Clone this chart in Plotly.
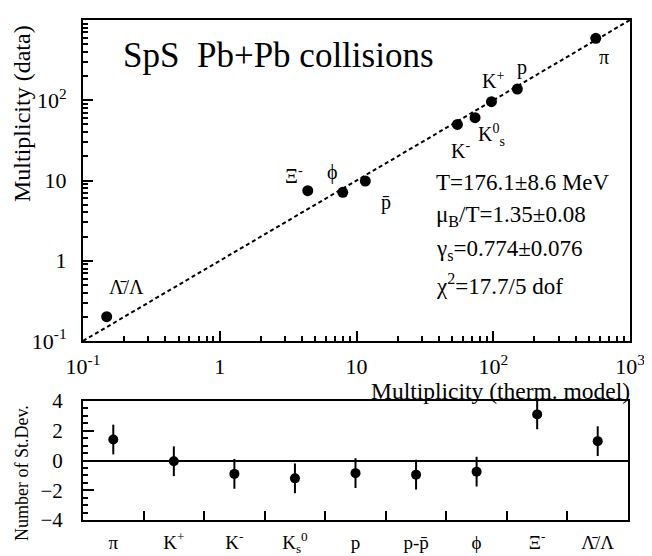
import math
import plotly.graph_objects as go

# ---- data ----
particles = ["π", "K<sup>+</sup>", "K<sup>-</sup>", "K<sup>0</sup><sub>s</sub>", "p", "p̄", "ϕ", "Ξ<sup>-</sup>", "Λ̄/Λ"]
model_mult = [562, 97, 54.7, 73.6, 150, 11.6, 7.94, 4.4, 0.149]
data_mult = [591, 96, 50, 60.6, 138, 9.86, 7.13, 7.46, 0.201]
data_err = [25, 6, 4, 6, 8, 0.8, 0.6, 0.7, 0.025]

dev_labels = ["π", "K<sup>+</sup>", "K<sup>-</sup>", "K<sub>s</sub><sup>0</sup>", "p", "p-p̄", "ϕ", "Ξ<sup>-</sup>", "Λ̄/Λ"]
dev_values = [1.41, -0.05, -0.9, -1.2, -0.85, -0.95, -0.75, 3.1, 1.3]
dev_err = [1.0, 1.0, 1.0, 1.0, 1.0, 1.0, 1.0, 1.0, 1.0]

diag = [0.1, 1000]
log_ticks = [0.1, 1, 10, 100, 1000]
log_ticktext = ["10<sup>-1</sup>", "1", "10", "10<sup>2</sup>", "10<sup>3</sup>"]
minor_ticks = [k * 10.0 ** n for n in range(-1, 3) for k in range(2, 10)]

fit_lines = ["T=176.1±8.6 MeV", "μ<sub>B</sub>/T=1.35±0.08", "γ<sub>s</sub>=0.774±0.076", "χ<sup>2</sup>=17.7/5 dof"]

# label offsets (px) for point labels in top panel
label_shift = [(8, -19), (2, 22), (3, -26), (16, -17), (5, 22), (21, -22), (-10, 20), (-14, 16), (20, 30)]

FONT = "Liberation Serif, Times New Roman, serif"
OFF = 8                      # page body margin
SW, SH = 652, 556            # screen size
W, H = SW - OFF, SH - OFF    # figure size


def px(sx):
    return (sx - OFF) / W


def py(sy):
    return 1 - (sy - OFF) / H


L, R = 83, 630
T1, B1 = 20, 341
T2, B2 = 401, 520

fig = go.Figure()

fig.add_trace(go.Scatter(x=diag, y=diag, mode="lines",
                         line=dict(color="black", width=2, dash="4px,3px"),
                         xaxis="x", yaxis="y", showlegend=False, hoverinfo="skip"))
fig.add_trace(go.Scatter(x=model_mult, y=data_mult, mode="markers",
                         marker=dict(color="black", size=11),
                         error_y=dict(type="data", array=data_err, color="black", thickness=1.5, width=0),
                         xaxis="x", yaxis="y", showlegend=False))
# invisible trace to carry the minor-tick overlay axes
fig.add_trace(go.Scatter(x=diag, y=diag, mode="lines", line=dict(width=0), opacity=0,
                         xaxis="x3", yaxis="y3", showlegend=False, hoverinfo="skip"))

fig.add_trace(go.Scatter(x=dev_labels, y=dev_values, mode="markers",
                         marker=dict(color="black", size=10),
                         error_y=dict(type="data", array=dev_err, color="black", thickness=2, width=0),
                         xaxis="x2", yaxis="y2", showlegend=False))

annotations = []
for name, xv, yv, (dx, dy) in zip(particles, model_mult, data_mult, label_shift):
    annotations.append(dict(x=math.log10(xv), y=math.log10(yv), xref="x", yref="y", text=name, showarrow=False,
                            xshift=dx, yshift=dy, font=dict(family=FONT, size=20, color="black")))

annotations.append(dict(x=px(121), y=py(55), xref="paper", yref="paper", xanchor="left", yanchor="middle",
                        text="SpS  Pb+Pb collisions", showarrow=False,
                        font=dict(family=FONT, size=35, color="black")))

fit_y = [182, 216, 250, 284]
for t, yy in zip(fit_lines, fit_y):
    annotations.append(dict(x=px(434), y=py(yy), xref="paper", yref="paper", xanchor="left", yanchor="middle",
                            text=t, showarrow=False, font=dict(family=FONT, size=23, color="black")))

annotations.append(dict(x=px(22), y=py(114), xref="paper", yref="paper", xanchor="center", yanchor="middle",
                        text="Multiplicity (data)", textangle=-90, showarrow=False,
                        font=dict(family=FONT, size=24, color="black")))
annotations.append(dict(x=px(632), y=py(391), xref="paper", yref="paper", xanchor="right", yanchor="middle",
                        text="Multiplicity (therm. model)", showarrow=False,
                        font=dict(family=FONT, size=23.5, color="black")))
annotations.append(dict(x=px(22), y=py(473), xref="paper", yref="paper", xanchor="center", yanchor="middle",
                        text="Number of St.Dev.", textangle=-90, showarrow=False,
                        font=dict(family=FONT, size=18, color="black")))

common_log = dict(type="log", range=[-1, 3], showgrid=False, zeroline=False, automargin=False)

fig.update_layout(
    width=W, height=H, margin=dict(l=0, r=0, t=0, b=0, autoexpand=False),
    paper_bgcolor="white", plot_bgcolor="white",
    font=dict(family=FONT, color="black"),
    annotations=annotations,
    xaxis=dict(**common_log, domain=[px(L), px(R)], anchor="y",
               tickmode="array", tickvals=log_ticks, ticktext=log_ticktext,
               ticks="inside", ticklen=10, tickwidth=1.5, tickcolor="black", ticklabelstandoff=5,
               showline=True, mirror=True, linecolor="black", linewidth=2,
               tickfont=dict(size=22, family=FONT)),
    yaxis=dict(**common_log, domain=[py(B1), py(T1)], anchor="x",
               tickmode="array", tickvals=log_ticks, ticktext=log_ticktext,
               ticks="inside", ticklen=10, tickwidth=1.5, tickcolor="black", ticklabelstandoff=10,
               showline=True, mirror=True, linecolor="black", linewidth=2,
               tickfont=dict(size=22, family=FONT)),
    xaxis3=dict(**common_log, domain=[px(L), px(R)], anchor="y3", overlaying="x",
                tickmode="array", tickvals=minor_ticks, showticklabels=False,
                ticks="inside", ticklen=5, tickwidth=1.5, tickcolor="black", showline=False),
    yaxis3=dict(**common_log, domain=[py(B1), py(T1)], anchor="x3", overlaying="y",
                tickmode="array", tickvals=minor_ticks, showticklabels=False,
                ticks="inside", ticklen=5, tickwidth=1.5, tickcolor="black", showline=False),
    xaxis2=dict(type="category", domain=[px(L), px(628)], anchor="y2", range=[-0.5, 8.5], automargin=False,
                tickson="boundaries", ticks="inside", ticklen=9, tickwidth=2, tickcolor="black",
                showline=True, mirror=True, linecolor="black", linewidth=2, ticklabelstandoff=4,
                showgrid=False, zeroline=False, tickfont=dict(size=19, family=FONT)),
    yaxis2=dict(range=[-4, 4], domain=[py(B2), py(T2)], anchor="x2", automargin=False,
                tickmode="array", tickvals=[-4, -2, 0, 2, 4],
                ticks="inside", ticklen=11, tickwidth=2, tickcolor="black", ticklabelstandoff=14,
                minor=dict(ticks="inside", ticklen=5, tickwidth=1.5, tickcolor="black", dtick=0.5),
                showline=True, mirror=True, linecolor="black", linewidth=2,
                showgrid=False, zeroline=True, zerolinecolor="black", zerolinewidth=1.5,
                tickfont=dict(size=21, family=FONT)),
)

fig.write_html("out.html")
